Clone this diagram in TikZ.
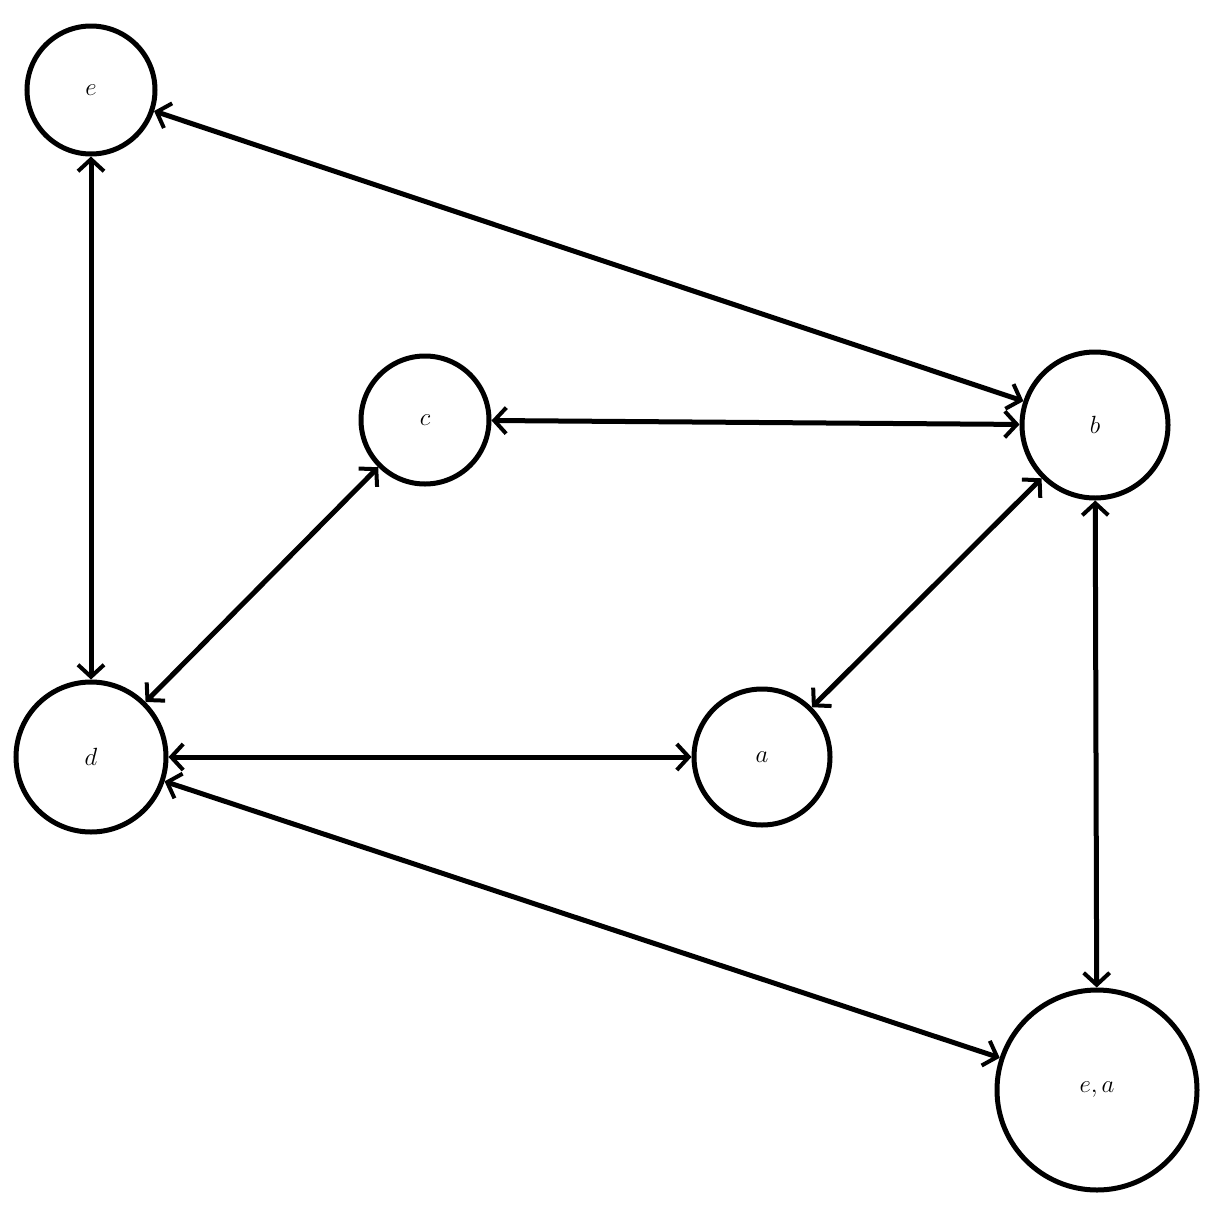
\documentclass[tikz,border=0pt]{standalone}
\usetikzlibrary{arrows.meta}
\begin{document}
\begin{tikzpicture}[x=1pt,y=-1pt,
  nd/.style={circle,draw,line width=5pt,inner sep=0pt,font=\fontsize{100}{110}\selectfont},
  ed/.style={line width=5pt,{Straight Barb[length=12pt,width=26pt,line width=4pt]}-{Straight Barb[length=12pt,width=26pt,line width=4pt]}}]
\useasboundingbox (0,0) rectangle (1210,1210);
\node[nd,minimum size=128pt] (e) at (91,90) {$e$};
\node[nd,minimum size=128pt] (c) at (425,420) {$c$};
\node[nd,minimum size=146pt] (b) at (1095,425) {$b$};
\node[nd,minimum size=150pt] (d) at (91,757) {$d$};
\node[nd,minimum size=136pt] (a) at (762,757) {$a$};
\node[nd,minimum size=200pt] (ea) at (1097,1090) {$e,a$};
\draw[ed] (e) -- (b);
\draw[ed] (e) -- (d);
\draw[ed] (c) -- (b);
\draw[ed] (c) -- (d);
\draw[ed] (b) -- (a);
\draw[ed] (b) -- (ea);
\draw[ed] (d) -- (a);
\draw[ed] (d) -- (ea);
\end{tikzpicture}
\end{document}
